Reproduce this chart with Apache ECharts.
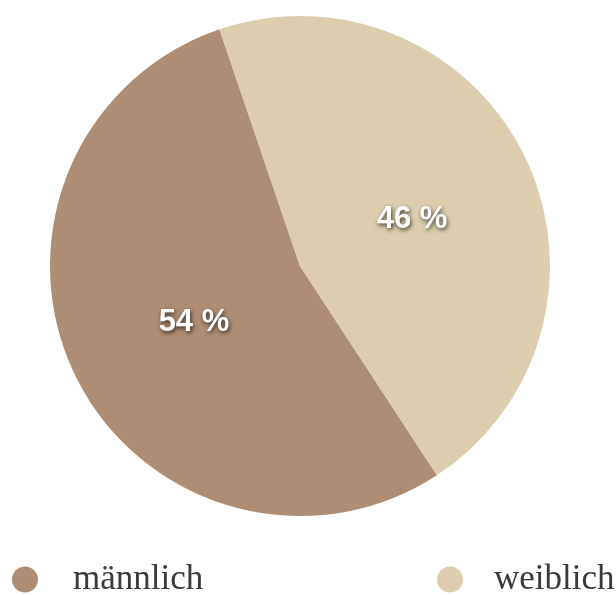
<!DOCTYPE html>
<html>
<head>
<meta charset="utf-8">
<script src="https://cdn.jsdelivr.net/npm/echarts@6/dist/echarts.min.js"></script>
<style>
  html, body { margin: 0; padding: 0; background: #ffffff; }
  #chart { width: 616px; height: 595px; }
</style>
</head>
<body>
<div id="chart"></div>
<script>
// Gender split
const categories = ['männlich', 'weiblich'];
const shares = [54, 46];
const colors = ['#ad8d74', '#dbcdae'];
// small nudges for the percentage labels
const labelNudges = [[9, 0], [-3, 10]];

const chart = echarts.init(document.getElementById('chart'), null, { renderer: 'canvas' });

const pieData = categories.map((name, i) => ({
  name: name,
  value: shares[i],
  itemStyle: { color: colors[i] },
  label: { offset: labelNudges[i] }
}));

function legendFor(name, left, gap) {
  return {
    data: [name],
    left: left,
    top: 557,
    icon: 'circle',
    itemWidth: 26,
    itemHeight: 26,
    selectedMode: false,
    textStyle: {
      fontFamily: 'Liberation Serif',
      fontSize: 35,
      lineHeight: 30,
      color: '#3a3a3a',
      padding: [0, 0, 0, gap]
    }
  };
}

chart.setOption({
  animation: false,
  legend: [legendFor(categories[0], 7, 30), legendFor(categories[1], 432, 26)],
  series: [{
    type: 'pie',
    center: [300, 266],
    radius: 250,
    startAngle: -56.8,
    clockwise: true,
    silent: true,
    data: pieData,
    label: {
      show: true,
      position: 'inside',
      formatter: p => p.value + ' %',
      fontFamily: 'Liberation Sans',
      fontWeight: 'bold',
      fontSize: 31,
      color: '#ffffff',
      textShadowColor: 'rgba(0,0,0,0.7)',
      textShadowBlur: 4,
      textShadowOffsetX: 1,
      textShadowOffsetY: 2
    },
    labelLine: { show: false }
  }]
});
</script>
</body>
</html>
